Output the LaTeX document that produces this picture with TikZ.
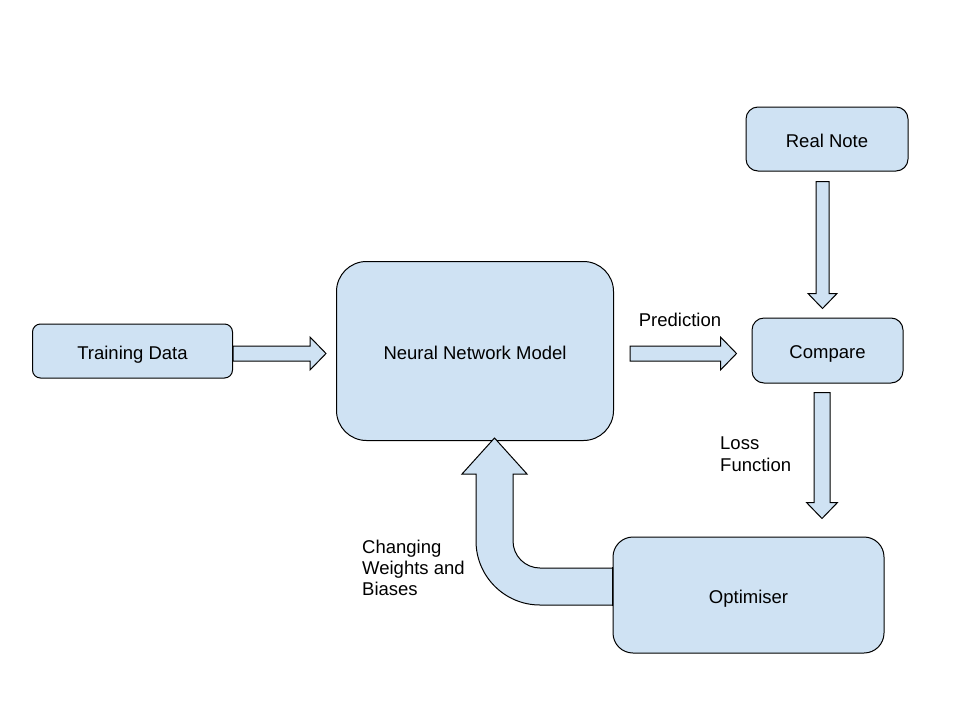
\documentclass[tikz,border=0pt]{standalone}
\usepackage{fontspec}
\setmainfont{Liberation Sans}
\usetikzlibrary{calc}
\definecolor{boxfill}{HTML}{CFE2F3}
\tikzset{
  box/.style={draw=black, fill=boxfill, line width=1pt, inner sep=0pt,
    text height=16pt, text depth=0pt,
    font=\fontsize{18.5}{22}\selectfont},
  barrow/.style={draw=black, fill=boxfill, line width=1pt, line join=miter},
  lbl/.style={inner sep=0pt, font=\fontsize{18.5}{22}\selectfont}
}
% horizontal right block arrow: #1 start, #2 tip, #3 shaft half, #4 head half, #5 head length
\newcommand{\harrowR}[5]{%
  \draw[barrow] ($(#1)+(0,-#3)$) -- ($(#2)+(-#5,-#3)$) -- ($(#2)+(-#5,-#4)$) -- (#2)
    -- ($(#2)+(-#5,#4)$) -- ($(#2)+(-#5,#3)$) -- ($(#1)+(0,#3)$) -- cycle;}
% vertical down block arrow (pixel y grows downward)
\newcommand{\varrowD}[5]{%
  \draw[barrow] ($(#1)+(-#3,0)$) -- ($(#2)+(-#3,-#5)$) -- ($(#2)+(-#4,-#5)$) -- (#2)
    -- ($(#2)+(#4,-#5)$) -- ($(#2)+(#3,-#5)$) -- ($(#1)+(#3,0)$) -- cycle;}
\begin{document}
\begin{tikzpicture}[x=1pt,y=-1pt]
\useasboundingbox (0,0) rectangle (960,720);

% nodes
\node[box, rounded corners=8pt, minimum width=200pt, minimum height=54pt] (train) at (132.5,351) {Training Data};
\node[box, rounded corners=30pt, minimum width=277pt, minimum height=179pt] (nn) at (475,351) {Neural Network Model};
\node[box, rounded corners=12pt, minimum width=162pt, minimum height=64pt] (real) at (827,139) {Real Note};
\node[box, rounded corners=12pt, minimum width=151pt, minimum height=65pt] (cmp) at (827.5,350.5) {Compare};
\node[box, rounded corners=20pt, minimum width=271pt, minimum height=116pt] (opt) at (748.5,595) {Optimiser};

% connector end points
\coordinate (a1s) at ($(train.east)+(0,2.5)$);
\coordinate (a1e) at ($(nn.west)+(-10,2.5)$);
\coordinate (a2s) at ($(nn.east)+(16,2.5)$);
\coordinate (a2e) at ($(cmp.west)+(-15,3)$);
\coordinate (a3s) at ($(real.south)+(-4.5,10)$);
\coordinate (a3e) at ($(cmp.north)+(-5,-9)$);
\coordinate (a4s) at ($(cmp.south)+(-5.5,9)$);
\coordinate (a4e) at ($(opt.north)+(73.5,-18)$);

\harrowR{a1s}{a1e}{7.5}{16.5}{16}
\harrowR{a2s}{a2e}{7.5}{16.5}{16}
\varrowD{a3s}{a3e}{6.5}{14.5}{15}
\varrowD{a4s}{a4e}{8}{15.5}{16}

% feedback curved block arrow
\coordinate (fbtip) at ($(nn.south)+(19.5,-3)$);
\draw[barrow] ($(opt.west)+(0,-27)$) -- (540,568) arc[start angle=90, end angle=180, radius=27]
  -- (513,474) -- (527,474) -- (fbtip) -- (462,474) -- (476,474) -- (476,541)
  arc[start angle=180, end angle=90, radius=64] -- ($(opt.west)+(0,10)$) -- cycle;
\draw[line width=1pt] ($(opt.west)+(0,-28)$) -- ($(opt.west)+(0,11)$);

% labels
\node[lbl] (lpred) at (680,320) {Prediction};
\node[lbl, anchor=west, align=left] (lloss) at (720,454) {Loss\\Function};
\node[lbl, anchor=west, align=left] (lchg) at (362,568) {Changing\\[-1pt]Weights and\\[-1pt]Biases};
\end{tikzpicture}
\end{document}
